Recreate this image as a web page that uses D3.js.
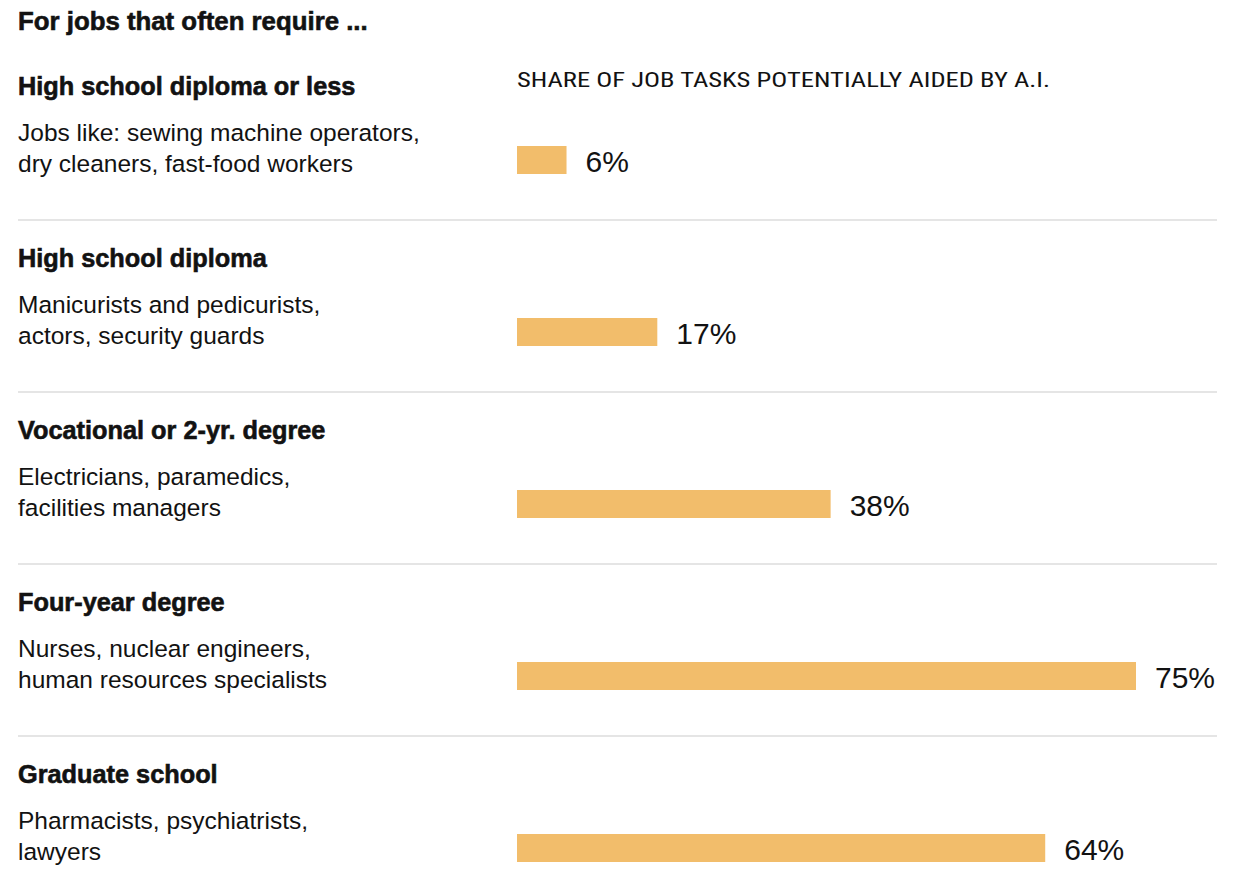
<!DOCTYPE html>
<html>
<head>
<meta charset="utf-8">
<script src="https://cdn.jsdelivr.net/npm/d3@7"></script>
<style>
  body { margin: 0; background: #fff; }
  text { fill: #121212; }
</style>
</head>
<body>
<div id="chart"></div>
<script>
// Data
const groups = [
  "High school diploma or less",
  "High school diploma",
  "Vocational or 2-yr. degree",
  "Four-year degree",
  "Graduate school",
];
const examples = [
  ["Jobs like: sewing machine operators,", "dry cleaners, fast-food workers"],
  ["Manicurists and pedicurists,", "actors, security guards"],
  ["Electricians, paramedics,", "facilities managers"],
  ["Nurses, nuclear engineers,", "human resources specialists"],
  ["Pharmacists, psychiatrists,", "lawyers"],
];
const shares = [6, 17, 38, 75, 64];

const title = "For jobs that often require ...";
const axisTitle = "SHARE OF JOB TASKS POTENTIALLY AIDED BY A.I.";

// Dimensions
const dimensions = {
  width: 1254,
  height: 884,
  margin: { left: 18, right: 37 },
};
const font = "'Liberation Sans', Arial, sans-serif";

const svg = d3
  .select("#chart")
  .append("svg")
  .attr("width", dimensions.width)
  .attr("height", dimensions.height);

// Scales
const xScale = d3.scaleLinear().domain([0, 75]).range([517, 1136]);
const yScale = d3.scaleBand().domain(groups).range([48, 908]);

// Title
svg
  .append("text")
  .attr("x", dimensions.margin.left)
  .attr("y", 30)
  .attr("font-family", font)
  .attr("font-weight", 700)
  .attr("font-size", 25.8)
  .attr("stroke", "#121212")
  .attr("stroke-width", 0.6)
  .text(title);

// Axis title
svg
  .append("text")
  .attr("x", xScale(0))
  .attr("y", 87)
  .attr("font-family", "'Liberation Sans Narrow', 'Roboto Condensed', " + font)
  .attr("font-size", 21)
  .attr("textLength", 533)
  .attr("lengthAdjust", "spacingAndGlyphs")
  .text(axisTitle);

const rows = svg
  .selectAll("g.row")
  .data(groups)
  .join("g")
  .attr("class", "row")
  .attr("transform", (d) => `translate(0, ${yScale(d)})`);

// Separators
rows
  .filter((d, i) => i > 0)
  .append("line")
  .attr("x1", dimensions.margin.left)
  .attr("x2", dimensions.width - dimensions.margin.right)
  .attr("y1", 0)
  .attr("y2", 0)
  .attr("stroke", "#dcdcdc")
  .attr("stroke-width", 1.5);

// Headings
rows
  .append("text")
  .attr("x", dimensions.margin.left)
  .attr("y", 47)
  .attr("font-family", font)
  .attr("font-weight", 700)
  .attr("font-size", 25.3)
  .attr("stroke", "#121212")
  .attr("stroke-width", 0.6)
  .text((d) => d);

// Examples
rows
  .append("text")
  .attr("font-family", font)
  .attr("font-size", 24.5)
  .selectAll("tspan")
  .data((d, i) => examples[i])
  .join("tspan")
  .attr("x", dimensions.margin.left)
  .attr("y", (d, j) => 93 + j * 31)
  .text((d) => d);

// Bars
const barHeight = 28;
const barCenter = 112;
rows
  .append("rect")
  .attr("x", xScale(0))
  .attr("y", barCenter - barHeight / 2)
  .attr("width", (d, i) => xScale(shares[i]) - xScale(0))
  .attr("height", barHeight)
  .attr("fill", "#f2bd6b");

// Value labels
rows
  .append("text")
  .attr("x", (d, i) => xScale(shares[i]) + 19)
  .attr("y", barCenter + 12)
  .attr("font-family", font)
  .attr("font-size", 30)
  .text((d, i) => shares[i] + "%");
</script>
</body>
</html>
